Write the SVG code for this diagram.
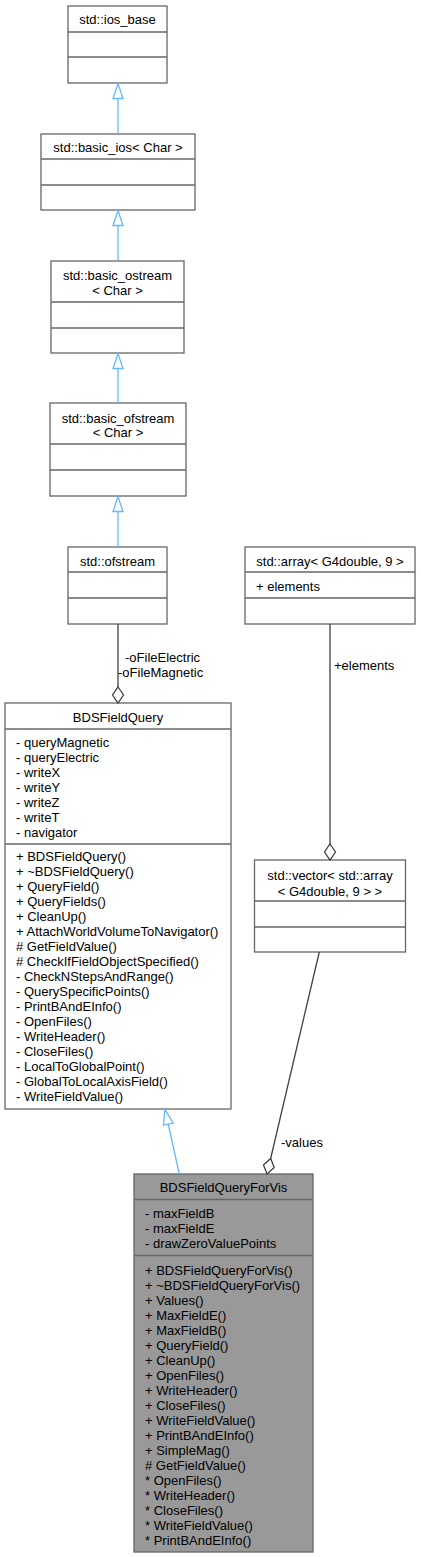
<svg xmlns="http://www.w3.org/2000/svg" width="421" height="1557" viewBox="0 0 421 1557">
<style>
text{font-family:"Liberation Sans",Arial,Helvetica,sans-serif;font-size:13px;fill:#000}
.t{text-anchor:middle}
.box{fill:#fff;stroke:#666;stroke-width:1.3}
.boxg{fill:#999;stroke:#666;stroke-width:1.3}
.sep{stroke:#666;stroke-width:1.3}
.inh{fill:none;stroke:#63b8ff;stroke-width:1.3}
.agg{fill:none;stroke:#404040;stroke-width:1.3}
</style>
<defs>
<marker id="tri" markerUnits="userSpaceOnUse" markerWidth="18" markerHeight="14" refX="15.5" refY="6" orient="auto" overflow="visible">
<path d="M0.5,1 L15.5,6 L0.5,11 Z" fill="#fff" stroke="#63b8ff" stroke-width="1.3"/>
</marker>
<marker id="dia" markerUnits="userSpaceOnUse" markerWidth="18" markerHeight="14" refX="16.5" refY="6" orient="auto" overflow="visible">
<path d="M0.5,6 L8.5,0.5 L16.5,6 L8.5,11.5 Z" fill="#fff" stroke="#404040" stroke-width="1.3"/>
</marker>
</defs>
<rect width="421" height="1557" fill="#fff"/>

<g id="n_ios_base">
<rect class="box" x="68" y="6" width="99" height="77"/>
<line class="sep" x1="68" y1="32" x2="167" y2="32"/>
<line class="sep" x1="68" y1="57" x2="167" y2="57"/>
<text class="t" x="117.5" y="23.5">std::ios_base</text>
</g>

<g id="n_basic_ios">
<rect class="box" x="41" y="134" width="154" height="76"/>
<line class="sep" x1="41" y1="159" x2="195" y2="159"/>
<line class="sep" x1="41" y1="185" x2="195" y2="185"/>
<text class="t" x="118" y="151.5">std::basic_ios&lt; Char &gt;</text>
</g>

<g id="n_basic_ostream">
<rect class="box" x="51" y="261" width="133" height="92"/>
<line class="sep" x1="51" y1="302" x2="184" y2="302"/>
<line class="sep" x1="51" y1="328" x2="184" y2="328"/>
<text class="t" x="117.5" y="279.5">std::basic_ostream</text>
<text class="t" x="117.5" y="294.5">&lt; Char &gt;</text>
</g>

<g id="n_basic_ofstream">
<rect class="box" x="50" y="403" width="136" height="93"/>
<line class="sep" x1="50" y1="444" x2="186" y2="444"/>
<line class="sep" x1="50" y1="470" x2="186" y2="470"/>
<text class="t" x="118" y="422.5">std::basic_ofstream</text>
<text class="t" x="118" y="437">&lt; Char &gt;</text>
</g>

<g id="n_ofstream">
<rect class="box" x="68" y="547" width="99" height="77"/>
<line class="sep" x1="68" y1="572" x2="167" y2="572"/>
<line class="sep" x1="68" y1="598" x2="167" y2="598"/>
<text class="t" x="117.5" y="565.5">std::ofstream</text>
</g>

<g id="n_array">
<rect class="box" x="245" y="547" width="170" height="77"/>
<line class="sep" x1="245" y1="572" x2="415" y2="572"/>
<line class="sep" x1="245" y1="598" x2="415" y2="598"/>
<text class="t" x="330" y="565.5">std::array&lt; G4double, 9 &gt;</text>
<text x="256" y="590.5">+ elements</text>
</g>

<g id="n_vector">
<rect class="box" x="254.5" y="860" width="151" height="92"/>
<line class="sep" x1="254.5" y1="901" x2="405.5" y2="901"/>
<line class="sep" x1="254.5" y1="927" x2="405.5" y2="927"/>
<text class="t" x="330" y="880">std::vector&lt; std::array</text>
<text class="t" x="330" y="895.5">&lt; G4double, 9 &gt; &gt;</text>
</g>

<g id="n_BDSFieldQuery">
<rect class="box" x="5" y="703" width="226" height="406"/>
<line class="sep" x1="5" y1="729" x2="231" y2="729"/>
<line class="sep" x1="5" y1="844" x2="231" y2="844"/>
<text class="t" x="118" y="721.5">BDSFieldQuery</text>
<text x="16" y="747.2">- queryMagnetic</text>
<text x="16" y="762.2">- queryElectric</text>
<text x="16" y="777.2">- writeX</text>
<text x="16" y="792.2">- writeY</text>
<text x="16" y="807.2">- writeZ</text>
<text x="16" y="822.2">- writeT</text>
<text x="16" y="837.2">- navigator</text>
<text x="16" y="861.2">+ BDSFieldQuery()</text>
<text x="16" y="876.2">+ ~BDSFieldQuery()</text>
<text x="16" y="891.2">+ QueryField()</text>
<text x="16" y="906.2">+ QueryFields()</text>
<text x="16" y="921.2">+ CleanUp()</text>
<text x="16" y="936.2">+ AttachWorldVolumeToNavigator()</text>
<text x="16" y="951.2"># GetFieldValue()</text>
<text x="16" y="966.2"># CheckIfFieldObjectSpecified()</text>
<text x="16" y="981.2">- CheckNStepsAndRange()</text>
<text x="16" y="996.2">- QuerySpecificPoints()</text>
<text x="16" y="1011.2">- PrintBAndEInfo()</text>
<text x="16" y="1026.2">- OpenFiles()</text>
<text x="16" y="1041.2">- WriteHeader()</text>
<text x="16" y="1056.2">- CloseFiles()</text>
<text x="16" y="1071.2">- LocalToGlobalPoint()</text>
<text x="16" y="1086.2">- GlobalToLocalAxisField()</text>
<text x="16" y="1101.2">- WriteFieldValue()</text>
</g>

<g id="n_BDSFieldQueryForVis">
<rect class="boxg" x="134" y="1174" width="179" height="378"/>
<line class="sep" x1="134" y1="1199.5" x2="313" y2="1199.5"/>
<line class="sep" x1="134" y1="1255.5" x2="313" y2="1255.5"/>
<text class="t" x="223.5" y="1192">BDSFieldQueryForVis</text>
<text x="145" y="1218.2">- maxFieldB</text>
<text x="145" y="1233.2">- maxFieldE</text>
<text x="145" y="1248.2">- drawZeroValuePoints</text>
<text x="145" y="1274.5">+ BDSFieldQueryForVis()</text>
<text x="145" y="1289.5">+ ~BDSFieldQueryForVis()</text>
<text x="145" y="1304.5">+ Values()</text>
<text x="145" y="1319.5">+ MaxFieldE()</text>
<text x="145" y="1334.5">+ MaxFieldB()</text>
<text x="145" y="1349.5">+ QueryField()</text>
<text x="145" y="1364.5">+ CleanUp()</text>
<text x="145" y="1379.5">+ OpenFiles()</text>
<text x="145" y="1394.5">+ WriteHeader()</text>
<text x="145" y="1409.5">+ CloseFiles()</text>
<text x="145" y="1424.5">+ WriteFieldValue()</text>
<text x="145" y="1439.5">+ PrintBAndEInfo()</text>
<text x="145" y="1454.5">+ SimpleMag()</text>
<text x="145" y="1469.5"># GetFieldValue()</text>
<text x="145" y="1484.5">* OpenFiles()</text>
<text x="145" y="1499.5">* WriteHeader()</text>
<text x="145" y="1514.5">* CloseFiles()</text>
<text x="145" y="1529.5">* WriteFieldValue()</text>
<text x="145" y="1544.5">* PrintBAndEInfo()</text>
</g>

<g id="connectors">
<path class="inh" d="M118,134 L118,83.5" marker-end="url(#tri)"/>
<path class="inh" d="M118,261 L118,210.5" marker-end="url(#tri)"/>
<path class="inh" d="M118,403 L118,353.5" marker-end="url(#tri)"/>
<path class="inh" d="M118,547 L118,496.5" marker-end="url(#tri)"/>
<path class="inh" d="M179.3,1174 L165,1109.5" marker-end="url(#tri)"/>
<path class="agg" d="M118,624 L118,703" marker-end="url(#dia)"/>
<path class="agg" d="M330,624 L330,860" marker-end="url(#dia)"/>
<path class="agg" d="M319.3,952 L267,1174" marker-end="url(#dia)"/>
<text x="125" y="661.5">-oFileElectric</text>
<text x="118" y="676.5">-oFileMagnetic</text>
<text x="334" y="669.5">+elements</text>
<text x="281" y="1147">-values</text>
</g>
</svg>
